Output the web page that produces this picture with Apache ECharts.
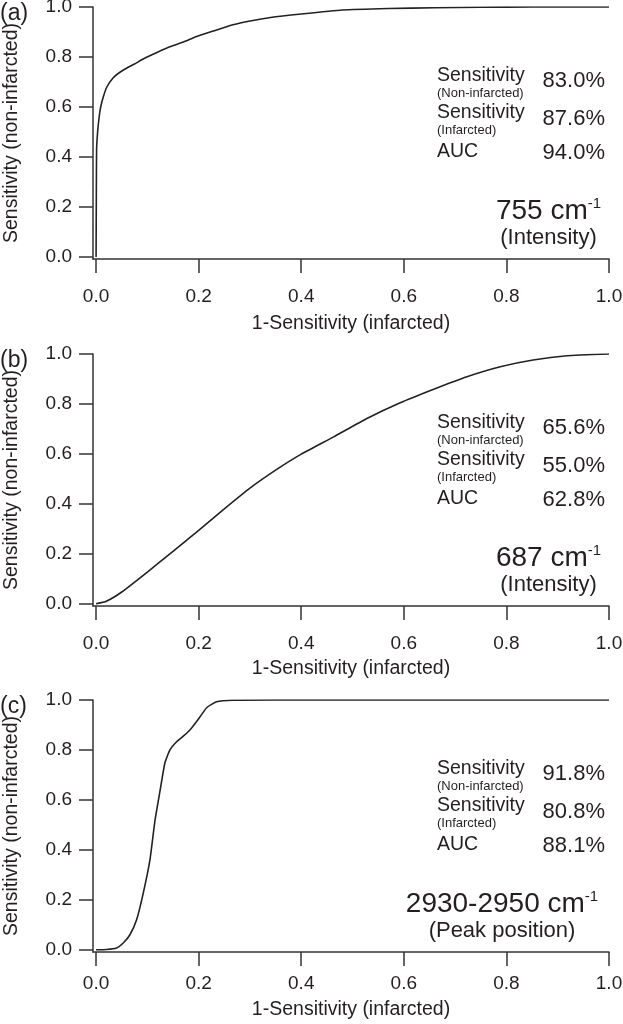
<!DOCTYPE html>
<html>
<head>
<meta charset="utf-8">
<script src="https://cdn.jsdelivr.net/npm/echarts@6/dist/echarts.min.js"></script>
<style>html,body{margin:0;padding:0;background:#fff;}#c{width:623px;height:1024px;}</style>
</head>
<body>
<div id="c"></div>
<script>
// ---- data ----
const tickValues = [0, 0.2, 0.4, 0.6, 0.8, 1.0];
const panelLetters = ['(a)', '(b)', '(c)'];
const xName = '1-Sensitivity (infarcted)';
const yName = 'Sensitivity (non-infarcted)';

const rocA_x = [0, 0.0005, 0.001, 0.003, 0.006, 0.009, 0.014, 0.021, 0.033, 0.045, 0.06, 0.075, 0.09, 0.11, 0.138, 0.17, 0.196, 0.23, 0.267, 0.3, 0.34, 0.4, 0.48, 0.57, 0.66, 0.75, 0.85, 1.0];
const rocA_y = [0, 0.25, 0.43, 0.5, 0.56, 0.6, 0.64, 0.68, 0.716, 0.737, 0.756, 0.772, 0.79, 0.81, 0.836, 0.86, 0.882, 0.905, 0.929, 0.944, 0.958, 0.972, 0.988, 0.994, 0.997, 0.999, 1.0, 1.0];

const rocB_x = [0, 0.02, 0.05, 0.1, 0.15, 0.2, 0.25, 0.3, 0.35, 0.4, 0.463, 0.528, 0.593, 0.657, 0.723, 0.788, 0.852, 0.918, 1.0];
const rocB_y = [0, 0.01, 0.047, 0.127, 0.21, 0.294, 0.38, 0.463, 0.535, 0.599, 0.668, 0.742, 0.805, 0.858, 0.909, 0.949, 0.976, 0.993, 1.0];

const rocC_x = [0, 0.02, 0.04, 0.053, 0.066, 0.079, 0.092, 0.105, 0.115, 0.125, 0.134, 0.144, 0.157, 0.17, 0.185, 0.2, 0.216, 0.235, 0.268, 0.35, 0.5, 1.0];
const rocC_y = [0, 0.001, 0.007, 0.027, 0.06, 0.12, 0.227, 0.36, 0.52, 0.64, 0.747, 0.8, 0.833, 0.855, 0.885, 0.925, 0.97, 0.993, 0.999, 1.0, 1.0, 1.0];

const sensNonInf = ['83.0%', '65.6%', '91.8%'];
const sensInf = ['87.6%', '55.0%', '80.8%'];
const aucVals = ['94.0%', '62.8%', '88.1%'];
const wavenumbers = ['755 cm', '687 cm', '2930-2950 cm'];
const measureTypes = ['(Intensity)', '(Intensity)', '(Peak position)'];

// ---- layout ----
const FONT = '"Liberation Sans", Arial, Helvetica, sans-serif';
const TXT = '#231f20';
const AX = '#333';
const panelTop = [7, 354, 700];
const gridH = 252;
const yMins = [-0.008, -0.009, -0.009];
const blockCx = [548.5, 548.5, 502];
const xLabelMargin = [28, 28, 22];
const xNameGap = [55, 53, 48];

const xs = [rocA_x, rocB_x, rocC_x];
const ys = [rocA_y, rocB_y, rocC_y];

const grids = [], xAxes = [], yAxes = [], series = [], graphics = [];
for (let i = 0; i < 3; i++) {
  grids.push({left: 93, right: 14, top: panelTop[i], height: gridH, containLabel: false, outerBoundsMode: 'none'});
  xAxes.push({
    type: 'value', gridIndex: i, min: -0.006, max: 1,
    axisLine: {show: true, onZero: false, lineStyle: {color: AX, width: 1.5}},
    axisTick: {show: true, length: 14, customValues: tickValues, lineStyle: {color: AX, width: 1.5}},
    axisLabel: {customValues: tickValues, formatter: v => v.toFixed(1), fontSize: 19, fontFamily: FONT, color: TXT, margin: xLabelMargin[i]},
    splitLine: {show: false},
    name: xName, nameLocation: 'middle', nameGap: xNameGap[i],
    nameTextStyle: {fontSize: 19.5, fontFamily: FONT, color: TXT}
  });
  yAxes.push({
    type: 'value', gridIndex: i, min: yMins[i], max: 1,
    axisLine: {show: true, onZero: false, lineStyle: {color: AX, width: 1.5}},
    axisTick: {show: true, length: 14, customValues: tickValues, lineStyle: {color: AX, width: 1.5}},
    axisLabel: {customValues: tickValues, formatter: v => v.toFixed(1), fontSize: 19, fontFamily: FONT, color: TXT, margin: 21},
    splitLine: {show: false},
    name: yName, nameLocation: 'middle', nameGap: 71,
    nameTextStyle: {fontSize: 19.5, fontFamily: FONT, color: TXT}
  });
  series.push({
    type: 'line', xAxisIndex: i, yAxisIndex: i,
    data: xs[i].map((x, k) => [x, ys[i][k]]),
    showSymbol: false, smooth: 0.15,
    lineStyle: {color: '#222', width: 1.6}, silent: true
  });

  const T = panelTop[i];
  const txt = (x, y, text, size, align) => ({
    type: 'text', x: x, y: y, silent: true,
    style: {text: text, fontSize: size, fontFamily: FONT, fill: TXT, align: align, verticalAlign: 'middle', textAlign: align, textVerticalAlign: 'middle'}
  });
  graphics.push(txt(0, T + 7, panelLetters[i], 23, 'left'));
  graphics.push(txt(437, T + 69, 'Sensitivity', 19.5, 'left'));
  graphics.push(txt(437, T + 86, '(Non-infarcted)', 13, 'left'));
  graphics.push(txt(605, T + 74, sensNonInf[i], 22, 'right'));
  graphics.push(txt(437, T + 106, 'Sensitivity', 19.5, 'left'));
  graphics.push(txt(437, T + 123, '(Infarcted)', 13, 'left'));
  graphics.push(txt(605, T + 112, sensInf[i], 22, 'right'));
  graphics.push(txt(437, T + 145, 'AUC', 19.5, 'left'));
  graphics.push(txt(605, T + 146, aucVals[i], 22, 'right'));
  graphics.push({
    type: 'text', x: blockCx[i], y: T + 204, silent: true,
    style: {
      text: '{m|' + wavenumbers[i] + '}{s|-1}',
      align: 'center', verticalAlign: 'middle', textAlign: 'center', textVerticalAlign: 'middle',
      fill: TXT,
      rich: {
        m: {fontSize: 28, fontFamily: FONT, fill: TXT, color: TXT, lineHeight: 30},
        s: {fontSize: 15, fontFamily: FONT, fill: TXT, color: TXT, verticalAlign: 'top', lineHeight: 30}
      }
    }
  });
  graphics.push(txt(blockCx[i], T + 231, measureTypes[i], 22, 'center'));
}

const chart = echarts.init(document.getElementById('c'), null, {renderer: 'canvas'});
chart.setOption({
  animation: false,
  backgroundColor: '#fff',
  grid: grids, xAxis: xAxes, yAxis: yAxes, series: series,
  graphic: graphics
});
</script>
</body>
</html>
